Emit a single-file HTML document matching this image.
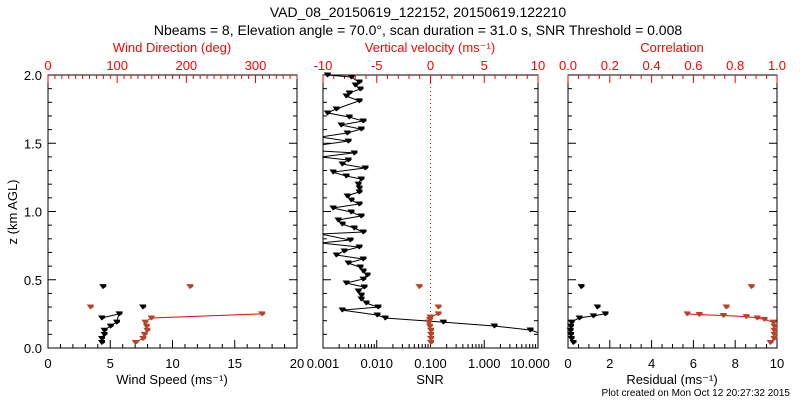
<!DOCTYPE html>
<html><head><meta charset="utf-8"><style>
body{margin:0;background:#fff}
svg{display:block;font-family:"Liberation Sans",sans-serif}
</style></head><body>
<svg id="c" width="800" height="400" viewBox="0 0 800 400" xmlns="http://www.w3.org/2000/svg">
<rect width="800" height="400" fill="#fff"/>
<text x="418" y="17" font-size="14" text-anchor="middle">VAD_08_20150619_122152, 20150619.122210</text>
<text x="418" y="35" font-size="14" text-anchor="middle">Nbeams = 8, Elevation angle = 70.0°, scan duration = 31.0 s, SNR Threshold = 0.008</text>
<text transform="translate(17,212) rotate(-90)" font-size="13" text-anchor="middle">z (km AGL)</text>
<text x="790" y="396" font-size="10" text-anchor="end">Plot created on Mon Oct 12 20:27:32 2015</text>
<g id="g"></g>
</svg>
<script>
// ---- data ----
const zSpeed=[0.04,0.07,0.10,0.13,0.16,0.19,0.25,0.22];
const windSpeed=[4.3,4.3,4.5,4.5,5.0,5.5,5.7,4.3];
const zSpeedIso=[0.30,0.45];
const windSpeedIso=[7.6,4.4];
const zDir=[0.04,0.07,0.10,0.13,0.16,0.19,0.22,0.25];
const windDir=[126,137,139,143,142,140,149,309];
const zDirIso=[0.30,0.45];
const windDirIso=[61,205];
const zSnr=[2.000,1.985,1.949,1.927,1.897,1.868,1.846,1.810,1.751,1.722,1.692,1.663,1.634,1.604,1.575,1.546,1.516,1.487,1.443,1.429,1.399,1.377,1.348,1.319,1.289,1.260,1.238,1.201,1.172,1.143,1.114,1.084,1.055,1.026,0.996,0.967,0.938,0.908,0.879,0.850,0.835,0.791,0.769,0.740,0.711,0.681,0.652,0.623,0.593,0.564,0.535,0.505,0.476,0.447,0.418,0.388,0.359,0.330,0.300,0.278,0.242,0.220,0.190,0.161,0.132,0.103];
const snr=[0.0012,0.00332,0.00467,0.00394,0.00488,0.00305,0.00268,0.00467,0.00175,0.0012,0.00305,0.00554,0.00216,0.00509,0.0028,0.0009,0.00292,0.0009,0.0009,0.00377,0.0009,0.00292,0.00226,0.00604,0.00153,0.00268,0.00509,0.00448,0.00467,0.00467,0.0028,0.00332,0.00467,0.00153,0.00332,0.00509,0.0019,0.00226,0.00377,0.00554,0.0009,0.00318,0.0009,0.00467,0.00246,0.00175,0.00554,0.00292,0.00488,0.00554,0.00659,0.00554,0.00268,0.00579,0.00448,0.00509,0.00509,0.00631,0.0105,0.00226,0.0101,0.0142,0.171,1.52,7.1,12];
const zW=[0.25,0.227,0.21,0.19,0.16,0.13,0.10,0.07,0.04];
const wVel=[0.7,-0.05,-0.1,-0.2,-0.1,0,0,0,0];
const zWIso=[0.30,0.45];
const wVelIso=[0.7,-1.07];
const zRes=[0.04,0.07,0.10,0.13,0.16,0.19,0.22,0.235,0.25];
const residual=[0.24,0.15,0.12,0.1,0.12,0.15,0.53,1.2,1.77];
const zResIso=[0.30,0.45];
const residualIso=[1.39,0.62];
const zCor=[0.25,0.245,0.238,0.23,0.22,0.21,0.19,0.16,0.13,0.10,0.07,0.04];
const corr=[0.569,0.627,0.742,0.852,0.904,0.938,0.981,0.985,0.985,0.985,0.985,0.967];
const zCorIso=[0.30,0.45];
const corrIso=[0.756,0.876];
// ---- layout ----
const Y0=348,Y1=75;
const yS=z=>Y0-(z/2)*(Y0-Y1);
const P=[{x0:48,x1:297},{x0:323,x1:538},{x0:568,x1:777}];
const lin=(p,a,b)=>v=>p.x0+(v-a)/(b-a)*(p.x1-p.x0);
const logS=(p)=>v=>p.x0+(Math.log10(v)+3)/4*(p.x1-p.x0);
const NS="http://www.w3.org/2000/svg";
const g=document.getElementById('g');
function el(t,a,parent){const e=document.createElementNS(NS,t);for(const k in a)e.setAttribute(k,a[k]);(parent||g).appendChild(e);return e;}
function txt(x,y,s,fill,size,anchor,name){const t=el('text',{x:x,y:y,fill:fill,'font-size':size,'text-anchor':anchor||'middle'});t.textContent=s;


return t;}
function line(x1,y1,x2,y2,c,w,name){const l=el('line',{x1,y1,x2,y2,stroke:c,'stroke-width':w||1});


return l;}
function mk(x,y,c,parent){return el('path',{d:`M${x-3.5},${y-2.5}h7v2.5l-3.5,2.5z`,fill:c},parent);}
P.forEach((p,i)=>{
 const r=el('rect',{x:p.x0,y:Y1,width:p.x1-p.x0,height:Y0-Y1,fill:'none',stroke:'#000','stroke-width':1});
 
 
 for(let z=0;z<=2.0001;z+=0.1){const y=yS(z);const big=Math.abs(z*2-Math.round(z*2))<1e-6;const L=big?8:4;
  line(p.x0,y,p.x0+L,y,'#000',1,'y-tick');line(p.x1,y,p.x1-L,y,'#000',1,'y-tick');
  if(i==0&&big)txt(42,y+5,z.toFixed(1),'#000',13,'end','y-tick-label');}
});
function linTicks(p,a,b,maj,min,side,col,fmt,name){const s=lin(p,a,b);
 for(let v=a;v<=b+1e-9;v+=min){const x=s(v);const big=Math.abs(v/maj-Math.round(v/maj))<1e-6;const L=big?8:4;
  if(side=='b'){line(x,Y0,x,Y0-L,col,1,name+'-tick');if(big)txt(x,Y0+20,fmt(v),col,13,'middle',name+'-label');}
  else{line(x,Y1,x,Y1+L,col,1,name+'-tick');if(big)txt(x,Y1-5,fmt(v),col,13,'middle',name+'-label');}}}
linTicks(P[0],0,20,5,1,'b','#000',v=>Math.round(v),'wind-speed-axis');
linTicks(P[0],0,360,100,10,'t','#f00',v=>v<=300?Math.round(v):'','wind-direction-axis');
linTicks(P[1],-10,10,5,1,'t','#f00',v=>Math.round(v),'vertical-velocity-axis');
linTicks(P[2],0,10,2,0.5,'b','#000',v=>Math.round(v),'residual-axis');
linTicks(P[2],0,1,0.2,0.05,'t','#f00',v=>v.toFixed(1),'correlation-axis');
const sl=logS(P[1]);
[0.001,0.01,0.1,1,10].forEach((d,k)=>{
 const lab=['0.001','0.010','0.100','1.000','10.000'][k];
 line(sl(d),Y0,sl(d),Y0-8,'#000',1,'snr-major-tick');
 txt(sl(d)+(k==4?-8:0),Y0+20,lab,'#000',13,'middle','snr-tick-label');
 if(k<4)for(let m=2;m<10;m++)line(sl(d*m),Y0,sl(d*m),Y0-4,'#000',1,'snr-minor-tick');
});
txt(172,52,'Wind Direction (deg)','#f00',13,'middle','wind-direction-title');
txt(172,384,'Wind Speed (ms⁻¹)','#000',13,'middle','wind-speed-title');
txt(430,52,'Vertical velocity (ms⁻¹)','#f00',13,'middle','vertical-velocity-title');
txt(430,384,'SNR','#000',13,'middle','snr-title');
txt(672,52,'Correlation','#f00',13,'middle','correlation-title');
txt(672,384,'Residual (ms⁻¹)','#000',13,'middle','residual-title');
const wS=lin(P[1],-10,10);
const zl=line(wS(0),Y1,wS(0),Y0,'#f00',1,'zero-velocity-line');zl.setAttribute('stroke-dasharray','1,3');
function series(xs,zs,sx,col,mcol,name,drawLine){
 if(drawLine){const pts=xs.map((v,i)=>Math.min(Math.max(sx(v),0),800).toFixed(1)+','+yS(zs[i]).toFixed(1)).join(' ');
  const pl=el('polyline',{points:pts,fill:'none',stroke:col,'stroke-width':1});
  
  }
 xs.forEach((v,i)=>{
  const m=mk(sx(v),yS(zs[i]),mcol);
  
  });
}
const sS=lin(P[0],0,20),dS=lin(P[0],0,360),rS=lin(P[2],0,10),cS=lin(P[2],0,1);
const cl=el('clipPath',{id:'cp'});el('rect',{x:323,y:70,width:215,height:290},cl);
series(windSpeed,zSpeed,sS,'#000','#000','wind-speed',true);
series(windSpeedIso,zSpeedIso,sS,'#000','#000','wind-speed-isolated',false);
series(windDir,zDir,dS,'#f00','#b5442a','wind-direction',true);
series(windDirIso,zDirIso,dS,'#f00','#b5442a','wind-direction-isolated',false);
const gs=el('g',{'clip-path':'url(#cp)'});
(function(){const pts=snr.map((v,i)=>sl(v).toFixed(1)+','+yS(zSnr[i]).toFixed(1)).join(' ');
 const pl=el('polyline',{points:pts,fill:'none',stroke:'#000','stroke-width':1},gs);
 
 
 snr.forEach((v,i)=>{if(v<0.001||v>10)return;
  const m=mk(sl(v),yS(zSnr[i]),'#000',gs);
  
  });})();
series(wVel,zW,wS,'#f00','#b5442a','vertical-velocity',true);
series(wVelIso,zWIso,wS,'#f00','#b5442a','vertical-velocity-isolated',false);
series(residual,zRes,rS,'#000','#000','residual',true);
series(residualIso,zResIso,rS,'#000','#000','residual-isolated',false);
series(corr,zCor,cS,'#f00','#b5442a','correlation',true);
series(corrIso,zCorIso,cS,'#f00','#b5442a','correlation-isolated',false);
</script>
</body></html>
